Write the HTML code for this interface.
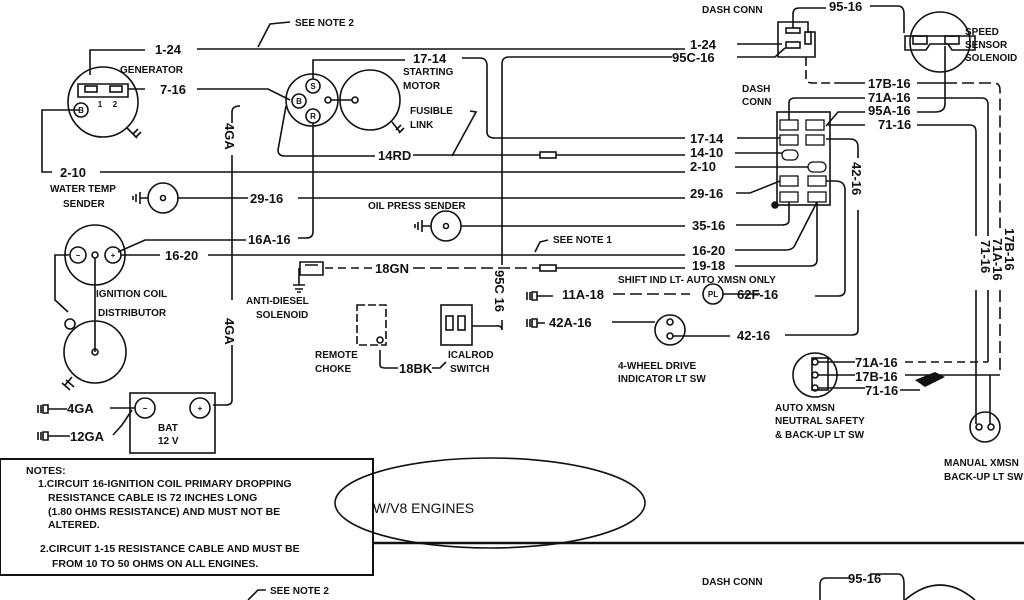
<!DOCTYPE html>
<html><head><meta charset="utf-8"><style>
html,body{margin:0;padding:0;background:#fff;width:1024px;height:600px;overflow:hidden}
svg{display:block}
text{font-family:"Liberation Sans",sans-serif;font-weight:bold;fill:#111}
.l{font-size:13px}.s{font-size:10px}.n{font-size:10.5px}
</style></head><body>
<svg width="1024" height="600" viewBox="0 0 1024 600" xmlns="http://www.w3.org/2000/svg">
<g fill="none" stroke="#111" stroke-width="1.6">
<path d="M258,47 L270,24 L290,22"/>
<path d="M90,75 V50 H145"/><path d="M197,49 H685"/><path d="M737,44 H782"/>
<circle cx="103" cy="102" r="35"/>
<path d="M78,84 H128 V97 H78 Z"/><rect x="85" y="86" width="12" height="6"/><rect x="110" y="86" width="12" height="6"/>
<circle cx="81" cy="110" r="7"/>
<path d="M80,110 H42 V172 H52"/>
<path d="M128,89 H145"/><path d="M197,89 H268 L290,100"/>
<path d="M127,128 L137,138 M133,134 l5,-5 M136,137 l5,-5"/>
<circle cx="312" cy="100" r="26"/>
<circle cx="313" cy="86" r="7"/><circle cx="299" cy="101" r="7"/><circle cx="313" cy="116" r="7"/>
<circle cx="328" cy="100" r="3"/><path d="M331,100 H352"/><circle cx="355" cy="100" r="3"/>
<circle cx="370" cy="100" r="30"/>
<path d="M392,122 l8,10 M396,130 l5,-5 M399,133 l5,-5"/>
<path d="M313,79 V60 H405"/><path d="M462,58 H480 Q487,58 487,66 V132 Q487,138 495,138 H685"/>
<path d="M286,106 L278,150 Q278,156 285,156 H375"/><path d="M413,155 H540"/><rect x="540" y="152" width="16" height="6"/><path d="M556,155 H685"/>
<path d="M470,111 L476,112 L452,156"/>
<path d="M100,172 H685"/>
<circle cx="163" cy="198" r="15"/><circle cx="163" cy="198" r="2.5"/>
<path d="M148,198 H140 M140,192 V204 M136,194 V202 M133,196 V200"/>
<path d="M178,198 H248"/><path d="M298,198 H685"/>
<path d="M313,123 V232 Q313,238 306,238 H298"/><path d="M246,240 H145 L118,252"/>
<circle cx="95" cy="255" r="30"/>
<circle cx="78" cy="255" r="8"/><circle cx="95" cy="255" r="3"/><circle cx="113" cy="255" r="8"/>
<path d="M121,255 H160"/><path d="M208,255 H685"/>
<path d="M69,255 H55 V300 L68,312"/><path d="M95,258 V352"/>
<circle cx="70" cy="324" r="5"/>
<circle cx="95" cy="352" r="31"/><circle cx="95" cy="352" r="3"/>
<path d="M72,377 L65,385 M62,383 l8,7 M66,380 l8,7"/>
<path d="M535,252 L540,242 L548,240"/>
<path d="M240,106 Q232,106 232,112 V123"/><path d="M232,155 V300"/><path d="M232,345 V400 Q232,405 226,405 H213"/>
<circle cx="446" cy="226" r="15"/><circle cx="446" cy="226" r="2.5"/>
<path d="M431,226 H422 M422,220 V232 M418,222 V230 M415,224 V228"/>
<path d="M461,226 H685"/>
<path d="M300,262 H323 V275 H300 Z M305,265 H318"/><path d="M299,268 V285 M293,285 H305 M295,289 H303 M297,292 H301"/>
<path d="M325,268 H372" stroke-dasharray="8,5"/><path d="M413,268 H540" stroke-dasharray="12,5"/>
<rect x="540" y="265" width="16" height="6"/><path d="M556,268 H685"/>
<path d="M509,57 Q502,57 502,64 V265"/><path d="M502,320 V330 Q502,325 495,326 H472"/>
<path d="M672,57 H509"/><path d="M737,57 H775 L785,48"/>
<path d="M357,305 H386 V345 H357 Z" stroke-dasharray="8,3"/><circle cx="380" cy="340" r="3"/>
<path d="M380,350 V365 Q380,368 385,368 H398"/><path d="M432,368 H440 L446,362"/>
<rect x="441" y="305" width="31" height="40"/><rect x="446" y="316" width="7" height="14"/><rect x="458" y="316" width="7" height="14"/>
<rect x="130" y="393" width="85" height="60"/>
<circle cx="145" cy="408" r="10"/><circle cx="200" cy="408" r="10"/>
<path d="M110,408 H135"/><path d="M113,435 L122,425 L132,410"/>
<path d="M38,405 V413 M41,405 V413 M43,405 H48 V413 H43 Z M48,409 H67"/>
<path d="M38,432 V440 M41,432 V440 M43,432 H48 V440 H43 Z M48,436 H70"/>
<rect x="0" y="459" width="373" height="116" stroke-width="2"/>
<ellipse cx="490" cy="503" rx="155" ry="45"/>
<path d="M373,543 H1024" stroke-width="2.5"/>
<path d="M248,600 L258,590 H266"/>
<path d="M778,22 H808 V32 H815 V57 H778 Z"/><rect x="786" y="28" width="14" height="5"/><rect x="786" y="42" width="14" height="6"/><rect x="805" y="32" width="6" height="12"/>
<path d="M793,28 V14 Q793,8 799,8 H826"/><path d="M870,6 H898 Q904,6 904,14 V33"/>
<path d="M806,57 V78 Q806,83 812,83 H838" stroke-dasharray="9,4"/><path d="M838,83 H865"/><path d="M917,83 H945"/>
<path d="M945,83 H994 Q1000,83 1000,90 V228" stroke-dasharray="12,5"/><path d="M1000,290 V375" stroke-dasharray="12,5"/>
<circle cx="940" cy="42" r="30"/><path d="M905,36 H975 V50 H952 L948,44 H930 L926,50 H905 Z"/><rect x="913" y="36" width="14" height="8"/><rect x="945" y="36" width="14" height="8"/>
<rect x="777" y="112" width="53" height="93"/>
<g stroke-width="1.3">
<rect x="780" y="120" width="18" height="10"/><rect x="806" y="120" width="18" height="10"/>
<rect x="780" y="135" width="18" height="10"/><rect x="806" y="135" width="18" height="10"/>
<rect x="782" y="150" width="16" height="10" rx="5"/>
<rect x="808" y="162" width="18" height="10" rx="5"/>
<rect x="780" y="176" width="18" height="10"/><rect x="808" y="176" width="18" height="10"/>
<rect x="780" y="192" width="18" height="10"/><rect x="808" y="192" width="18" height="10"/>
</g>
<path d="M737,138 H780"/><path d="M735,153 H782"/><path d="M735,167 H808"/><path d="M736,193 H750 L780,181"/>
<path d="M789,120 V103 Q789,98 795,98 H865"/><path d="M826,126 L838,112 H865"/><path d="M828,125 H865"/>
<path d="M917,98 H982 Q988,98 988,105 V236"/><path d="M988,290 V362"/>
<path d="M917,112 H935 Q945,112 945,104 V46"/>
<path d="M917,125 H970 Q976,125 976,132 V236"/><path d="M976,290 V424"/><path d="M990,375 V424"/>
<path d="M826,139 H850 Q858,139 858,147 V158"/><path d="M858,210 V330 Q858,335 852,335 H785"/>
<path d="M826,181 H835 Q845,181 845,190 V290 Q845,296 838,296 H815"/>
<path d="M789,202 V220 Q789,225 782,225 H736"/>
<path d="M817,202 L795,245 Q793,250 785,250 H735"/>
<path d="M817,202 V260 Q817,266 810,266 H735"/>
<circle cx="775" cy="205" r="3" fill="#111"/>
<path d="M527,292 V300 M530,292 V300 M532,292 H537 V300 H532 Z M537,296 H553"/>
<path d="M613,294 H690" stroke-dasharray="12,5"/><circle cx="713" cy="294" r="10"/><path d="M723,294 H760"/>
<path d="M527,319 V327 M530,319 V327 M532,319 H537 V327 H532 Z M537,323 H545"/>
<path d="M612,322 H655"/><circle cx="670" cy="330" r="15"/><circle cx="670" cy="322" r="3"/><circle cx="670" cy="336" r="3"/><path d="M673,336 H730"/>
<circle cx="815" cy="375" r="22"/><rect x="812" y="358" width="16" height="32"/>
<circle cx="815" cy="362" r="3"/><circle cx="815" cy="375" r="3"/><circle cx="815" cy="388" r="3"/>
<path d="M818,362 H855 M818,375 H855 M818,388 H865"/>
<path d="M905,362 H988" stroke-dasharray="8,5"/><path d="M905,375 H1000"/><path d="M900,390 H920"/>
<circle cx="985" cy="427" r="15"/><circle cx="979" cy="427" r="3"/><circle cx="991" cy="427" r="3"/>
<path d="M850,578 H826 Q820,578 820,585 V600"/><path d="M870,574 H898 Q904,574 904,584 V600"/>
<path d="M905,600 Q940,570 975,600"/>
</g>
<path d="M915,380 l20,-8 l10,5 l-20,10 z" fill="#111"/>
<g class="l">
<text x="155" y="54">1-24</text><text x="160" y="94">7-16</text>
<text x="413" y="63">17-14</text><text x="378" y="160">14RD</text>
<text x="60" y="177">2-10</text><text x="250" y="203">29-16</text>
<text x="248" y="244">16A-16</text><text x="165" y="260">16-20</text>
<text x="375" y="273">18GN</text><text x="67" y="413">4GA</text><text x="70" y="441">12GA</text>
<text x="399" y="373">18BK</text>
<text x="690" y="49">1-24</text><text x="672" y="62">95C-16</text>
<text x="829" y="11">95-16</text>
<text x="868" y="88">17B-16</text><text x="868" y="102">71A-16</text><text x="868" y="115">95A-16</text><text x="878" y="129">71-16</text>
<text x="690" y="143">17-14</text><text x="690" y="157">14-10</text><text x="690" y="171">2-10</text>
<text x="690" y="198">29-16</text><text x="692" y="230">35-16</text><text x="692" y="255">16-20</text><text x="692" y="270">19-18</text>
<text x="562" y="299">11A-18</text><text x="549" y="327">42A-16</text>
<text x="737" y="299">62F-16</text><text x="737" y="340">42-16</text>
<text x="855" y="367">71A-16</text><text x="855" y="381">17B-16</text><text x="865" y="395">71-16</text>
<text x="848" y="583">95-16</text>
<text transform="translate(225,123) rotate(90)">4GA</text>
<text transform="translate(225,318) rotate(90)">4GA</text>
<text transform="translate(495,270) rotate(90)">95C 16</text>
<text transform="translate(852,162) rotate(90)">42-16</text>
<text transform="translate(1005,228) rotate(90)">17B-16</text>
<text transform="translate(993,238) rotate(90)">71A-16</text>
<text transform="translate(981,240) rotate(90)">71-16</text>
<text x="373" y="513" style="font-size:14px;font-weight:normal">W/V8  ENGINES</text>
</g>
<g class="s">
<text x="295" y="26">SEE NOTE 2</text><text x="120" y="73">GENERATOR</text>
<text x="403" y="75">STARTING</text><text x="403" y="89">MOTOR</text>
<text x="410" y="114">FUSIBLE</text><text x="410" y="128">LINK</text>
<text x="50" y="192">WATER TEMP</text><text x="63" y="207">SENDER</text>
<text x="368" y="209">OIL PRESS SENDER</text><text x="553" y="243">SEE NOTE 1</text>
<text x="96" y="297">IGNITION COIL</text><text x="98" y="316">DISTRIBUTOR</text>
<text x="246" y="304">ANTI-DIESEL</text><text x="256" y="318">SOLENOID</text>
<text x="315" y="358">REMOTE</text><text x="315" y="372">CHOKE</text>
<text x="448" y="358">ICALROD</text><text x="450" y="372">SWITCH</text>
<text x="158" y="431">BAT</text><text x="158" y="444">12 V</text>
<text x="702" y="13">DASH CONN</text><text x="742" y="92">DASH</text><text x="742" y="105">CONN</text>
<text x="965" y="35">SPEED</text><text x="965" y="48">SENSOR</text><text x="965" y="61">SOLENOID</text>
<text x="618" y="283">SHIFT IND LT- AUTO XMSN ONLY</text>
<text x="618" y="369">4-WHEEL DRIVE</text><text x="618" y="382">INDICATOR LT SW</text>
<text x="775" y="411">AUTO XMSN</text><text x="775" y="424">NEUTRAL SAFETY</text><text x="775" y="438">&amp; BACK-UP LT SW</text>
<text x="944" y="466">MANUAL XMSN</text><text x="944" y="480">BACK-UP LT SW</text>
<text x="702" y="585">DASH CONN</text><text x="270" y="594">SEE NOTE 2</text>
</g>
<g class="n">
<text x="26" y="474">NOTES:</text>
<text x="38" y="487">1.CIRCUIT 16-IGNITION COIL PRIMARY DROPPING</text>
<text x="48" y="501">RESISTANCE  CABLE  IS 72 INCHES LONG</text>
<text x="48" y="515">(1.80 OHMS RESISTANCE) AND MUST NOT BE</text>
<text x="48" y="528">ALTERED.</text>
<text x="40" y="552">2.CIRCUIT 1-15 RESISTANCE CABLE AND MUST BE</text>
<text x="52" y="567">FROM 10 TO 50 OHMS ON ALL ENGINES.</text>
</g>
<g font-size="8" text-anchor="middle" style="font-family:'Liberation Sans',sans-serif">
<text x="81" y="113">B</text><text x="313" y="89">S</text><text x="299" y="104">B</text><text x="313" y="119">R</text>
<text x="78" y="258">−</text><text x="113" y="258">+</text><text x="145" y="411">−</text><text x="200" y="411">+</text><text x="713" y="297">PL</text>
<text x="100" y="107">1</text><text x="115" y="107">2</text>
</g>
</svg>
</body></html>
